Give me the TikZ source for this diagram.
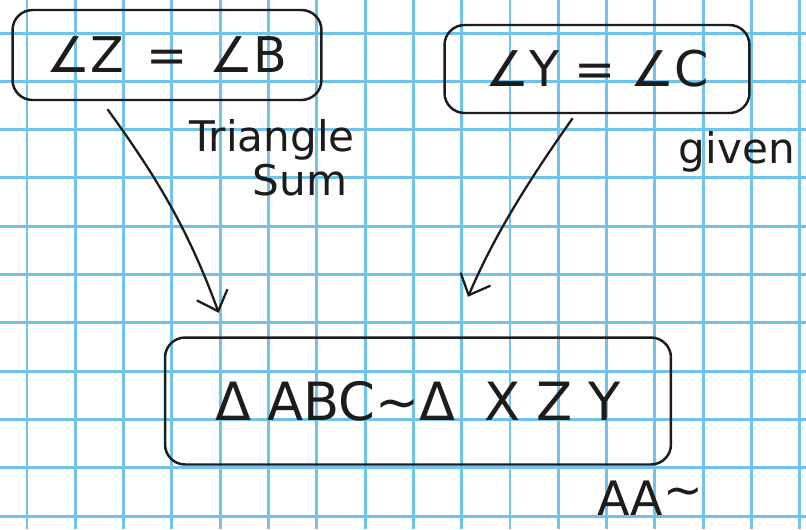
\documentclass[tikz,border=0pt]{standalone}
\usepackage{fontspec}
\setmainfont{DejaVu Sans}
\usepackage{tikz}
\usetikzlibrary{arrows.meta,calc,positioning}
\definecolor{gridblue}{RGB}{112,196,236}
\definecolor{penblack}{RGB}{28,28,28}

\begin{document}
\begin{tikzpicture}[x=0.02cm,y=-0.02cm,>={Straight Barb[length=3.5mm,width=6.5mm]},
    claim/.style={draw=penblack,line width=1.4pt,rounded corners=4mm,inner sep=0pt,
      text=penblack,font=\fontsize{28}{32}\selectfont},
    note/.style={text=penblack,inner sep=0pt,font=\fontsize{24}{28}\selectfont},
    link/.style={->,penblack,line width=1.3pt}]
    \useasboundingbox (0,0) rectangle (806,529);
    \fill[white] (0,0) rectangle (806,529);
    % graph paper
    \foreach \i in {0,...,16}
      \draw[gridblue,line width=1.7pt] ({27+48.3*\i},0) -- ({27+48.3*\i},529);
    \foreach \j in {0,...,10}
      \draw[gridblue,line width=1.7pt] (0,{33+48.3*\j}) -- (806,{33+48.3*\j});
    % statements
    \node[claim,minimum width=6.18cm,minimum height=1.8cm] (zb) at (167,55)
      {∠Z\hspace{0.45em}=\hspace{0.45em}∠B};
    \node[claim,minimum width=6.1cm,minimum height=1.76cm] (yc) at (597,69)
      {∠Y\hspace{0.3em}=\hspace{0.3em}∠C};
    \node[claim,minimum width=10.12cm,minimum height=2.54cm,font=\fontsize{30}{34}\selectfont] (abc) at (418,401)
      {Δ\hspace{0.3em}ABC∼Δ\hspace{0.55em}X\hspace{0.3em}Z\hspace{0.3em}Y};
    % reasons
    \node[note] (tri) at (272,140) {Triangle};
    \node[note] (sum) at (300,180) {Sum};
    \node[note] (given) at (737,152) {given};
    \node[note,font=\fontsize{27}{30}\selectfont] (aa) at (650,498) {AA\raisebox{0.35ex}{∼}};
    % implications
    \draw[link,shorten <=2mm,shorten >=5mm]
      ($(zb.south west)!0.29!(zb.south east)$) to[bend left=8]
      ($(abc.north west)!0.125!(abc.north east)$);
    \draw[link,shorten <=1mm,shorten >=8.6mm]
      ($(yc.south west)!0.43!(yc.south east)$) to[bend right=6]
      ($(abc.north west)!0.565!(abc.north east)$);
\end{tikzpicture}
\end{document}
